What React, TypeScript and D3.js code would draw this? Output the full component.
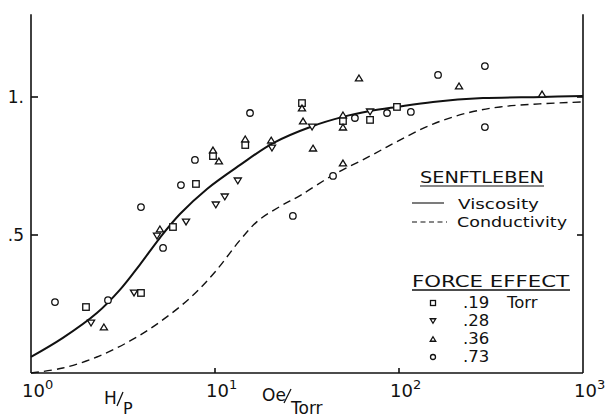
import React from "react";
import * as d3 from "d3";

// ---- data ----
const xTickValues = [1, 10, 100, 1000];
const xTickExponents = ["0", "1", "2", "3"];
const yTickValues = [0.5, 1.0];
const yTickLabels = [".5", "1."];

// Senftleben curves: [H/P (Oe/Torr), relative effect]
const viscosityCurve: [number, number][] = [
  [1, 0.058], [1.49, 0.127], [2.28, 0.217], [3.04, 0.301], [3.91, 0.393],
  [5.02, 0.49], [6.45, 0.576], [9.05, 0.667], [13.7, 0.754], [20.7, 0.833],
  [34.1, 0.895], [49.6, 0.928], [69.6, 0.949], [97.5, 0.964], [153, 0.982],
  [286, 0.996], [599, 1.0], [1000, 1.004],
];
const conductivityCurve: [number, number][] = [
  [1, 0.0], [1.49, 0.018], [2.28, 0.058], [3.45, 0.116], [5.02, 0.185],
  [7.32, 0.272], [10.0, 0.366], [13.7, 0.482], [17.1, 0.551], [22.5, 0.603],
  [29.0, 0.643], [43.8, 0.717], [69.6, 0.786], [101, 0.844], [153, 0.902],
  [234, 0.942], [354, 0.964], [581, 0.975], [1000, 0.982],
];

// Force effect measurements
const torr019: [number, number][] = [
  [1.99, 0.239], [3.96, 0.29], [5.91, 0.529], [7.88, 0.685], [9.75, 0.786],
  [14.6, 0.826], [29.7, 0.978], [49.6, 0.913], [69.6, 0.917], [97.5, 0.964],
];
const torr028: [number, number][] = [
  [2.12, 0.181], [3.63, 0.29], [4.84, 0.496], [6.96, 0.547], [10.1, 0.609],
  [11.3, 0.638], [13.3, 0.696], [20.4, 0.815], [33.7, 0.891], [69.6, 0.946],
];
const torr036: [number, number][] = [
  [2.49, 0.167], [5.02, 0.522], [9.75, 0.808], [10.5, 0.768], [14.6, 0.848],
  [20.2, 0.844], [29.7, 0.96], [30.1, 0.913], [34.1, 0.815], [60.6, 1.069],
  [49.6, 0.935], [49.6, 0.891], [49.6, 0.761], [212, 1.04], [599, 1.011],
];
const torr073: [number, number][] = [
  [1.35, 0.257], [2.62, 0.264], [5.22, 0.453], [3.96, 0.601], [6.53, 0.681],
  [7.78, 0.772], [15.5, 0.942], [26.5, 0.569], [43.8, 0.714], [57.6, 0.924],
  [86.1, 0.942], [116, 0.946], [163, 1.08], [293, 1.112], [293, 0.891],
];

const legendLabels = [".19", ".28", ".36", ".73"];

const FONT = "DejaVu Sans, sans-serif";

type Shape = "square" | "down" | "up" | "circle";

function Marker({ shape, x, y, s }: { shape: Shape; x: number; y: number; s: number }) {
  const common = { fill: "white", stroke: "#111", strokeWidth: 1.3 };
  if (shape === "square") {
    return <rect x={x - s / 2} y={y - s / 2} width={s} height={s} {...common} />;
  }
  if (shape === "circle") {
    return <circle cx={x} cy={y} r={s / 2} {...common} />;
  }
  const h = s * 0.9;
  const w = s * 1.1;
  const pts =
    shape === "up"
      ? [[x, y - h / 2], [x + w / 2, y + h / 2], [x - w / 2, y + h / 2]]
      : [[x, y + h / 2], [x + w / 2, y - h / 2], [x - w / 2, y - h / 2]];
  return <polygon points={pts.map((p) => p.join(",")).join(" ")} {...common} strokeLinejoin="miter" />;
}

export default function App() {
  const width = 608;
  const height = 417;
  const x = d3.scaleLog().domain([1, 1000]).range([31, 583]);
  const y = d3.scaleLinear().domain([0, 1]).range([373, 97]);
  const yTop = y(1.3);

  const line = d3
    .line<[number, number]>()
    .x((d) => x(d[0]))
    .y((d) => y(d[1]))
    .curve(d3.curveCatmullRom.alpha(0.5));

  const series: { data: [number, number][]; shape: Shape }[] = [
    { data: torr019, shape: "square" },
    { data: torr028, shape: "down" },
    { data: torr036, shape: "up" },
    { data: torr073, shape: "circle" },
  ];

  const x0 = x(1);
  const x3 = x(1000);
  const y0 = y(0);

  return (
    <svg width={width} height={height} style={{ position: "absolute", left: 0, top: 0, background: "white" }}>
      <rect x={0} y={0} width={width} height={height} fill="white" />
      {/* axes */}
      <g stroke="#111" strokeWidth={1.6} fill="none">
        <line x1={x0} y1={yTop} x2={x0} y2={y0} />
        <line x1={x3} y1={yTop} x2={x3} y2={y0} />
        <line x1={x0} y1={y0} x2={x3} y2={y0} />
        {xTickValues.slice(1, 3).map((v) => (
          <line key={v} x1={x(v)} y1={y0} x2={x(v)} y2={y0 - 5} />
        ))}
        {yTickValues.map((v) => (
          <g key={v}>
            <line x1={x0} y1={y(v)} x2={x0 + 7} y2={y(v)} />
            <line x1={x3} y1={y(v)} x2={x3 - 6} y2={y(v)} />
          </g>
        ))}
      </g>

      {/* tick labels */}
      <g fontFamily={FONT} fill="#111">
        {xTickValues.map((v, i) => (
          <text key={v} x={x(v) - 9} y={397} fontSize={18}>
            10
            <tspan fontSize={13} dy={-8}>
              {xTickExponents[i]}
            </tspan>
          </text>
        ))}
        {yTickValues.map((v, i) => (
          <text key={v} x={24} y={y(v) + 6} fontSize={17} textAnchor="end">
            {yTickLabels[i]}
          </text>
        ))}
      </g>

      {/* axis title H/P  Oe/Torr */}
      <g fontFamily={FONT} fill="#111">
        <text x={104} y={404} fontSize={17}>H</text>
        <line x1={117} y1={406} x2={123} y2={392} stroke="#111" strokeWidth={1.3} />
        <text x={123} y={414} fontSize={16}>P</text>
        <text x={262} y={401} fontSize={17}>Oe</text>
        <line x1={284} y1={403} x2={291} y2={389} stroke="#111" strokeWidth={1.3} />
        <text x={291} y={414} fontSize={17}>Torr</text>
      </g>

      {/* curves */}
      <path d={line(viscosityCurve) || ""} fill="none" stroke="#111" strokeWidth={2} />
      <path d={line(conductivityCurve) || ""} fill="none" stroke="#111" strokeWidth={1.4} strokeDasharray="8,5" />

      {/* markers */}
      {series.map((s, si) =>
        s.data.map((d, i) => <Marker key={si + "-" + i} shape={s.shape} x={x(d[0])} y={y(d[1])} s={6.5} />)
      )}

      {/* legend: Senftleben */}
      <g fontFamily={FONT} fill="#111">
        <text x={420} y={183} fontSize={15} textLength={124} lengthAdjust="spacingAndGlyphs">SENFTLEBEN</text>
        <line x1={420} y1={186} x2={544} y2={186} stroke="#111" strokeWidth={1.2} />
        <line x1={412} y1={203} x2={444} y2={203} stroke="#111" strokeWidth={1.1} />
        <text x={458} y={209} fontSize={14.5} textLength={81} lengthAdjust="spacingAndGlyphs">Viscosity</text>
        <line x1={412} y1={222} x2={447} y2={222} stroke="#111" strokeWidth={1.1} strokeDasharray="5,3.5" />
        <text x={457} y={227} fontSize={14.5} textLength={110} lengthAdjust="spacingAndGlyphs">Conductivity</text>

        <text x={412} y={287} fontSize={16} textLength={157} lengthAdjust="spacingAndGlyphs">FORCE  EFFECT</text>
        <line x1={412} y1={290} x2={570} y2={290} stroke="#111" strokeWidth={1.4} />
        {series.map((s, i) => {
          const ly = 303 + i * 18;
          return (
            <g key={i}>
              <Marker shape={s.shape} x={433} y={ly} s={5} />
              <text x={463} y={ly + 5} fontSize={16.5}>{legendLabels[i]}</text>
              {i === 0 && (
                <text x={507} y={ly + 5} fontSize={16.5}>Torr</text>
              )}
            </g>
          );
        })}
      </g>
    </svg>
  );
}
